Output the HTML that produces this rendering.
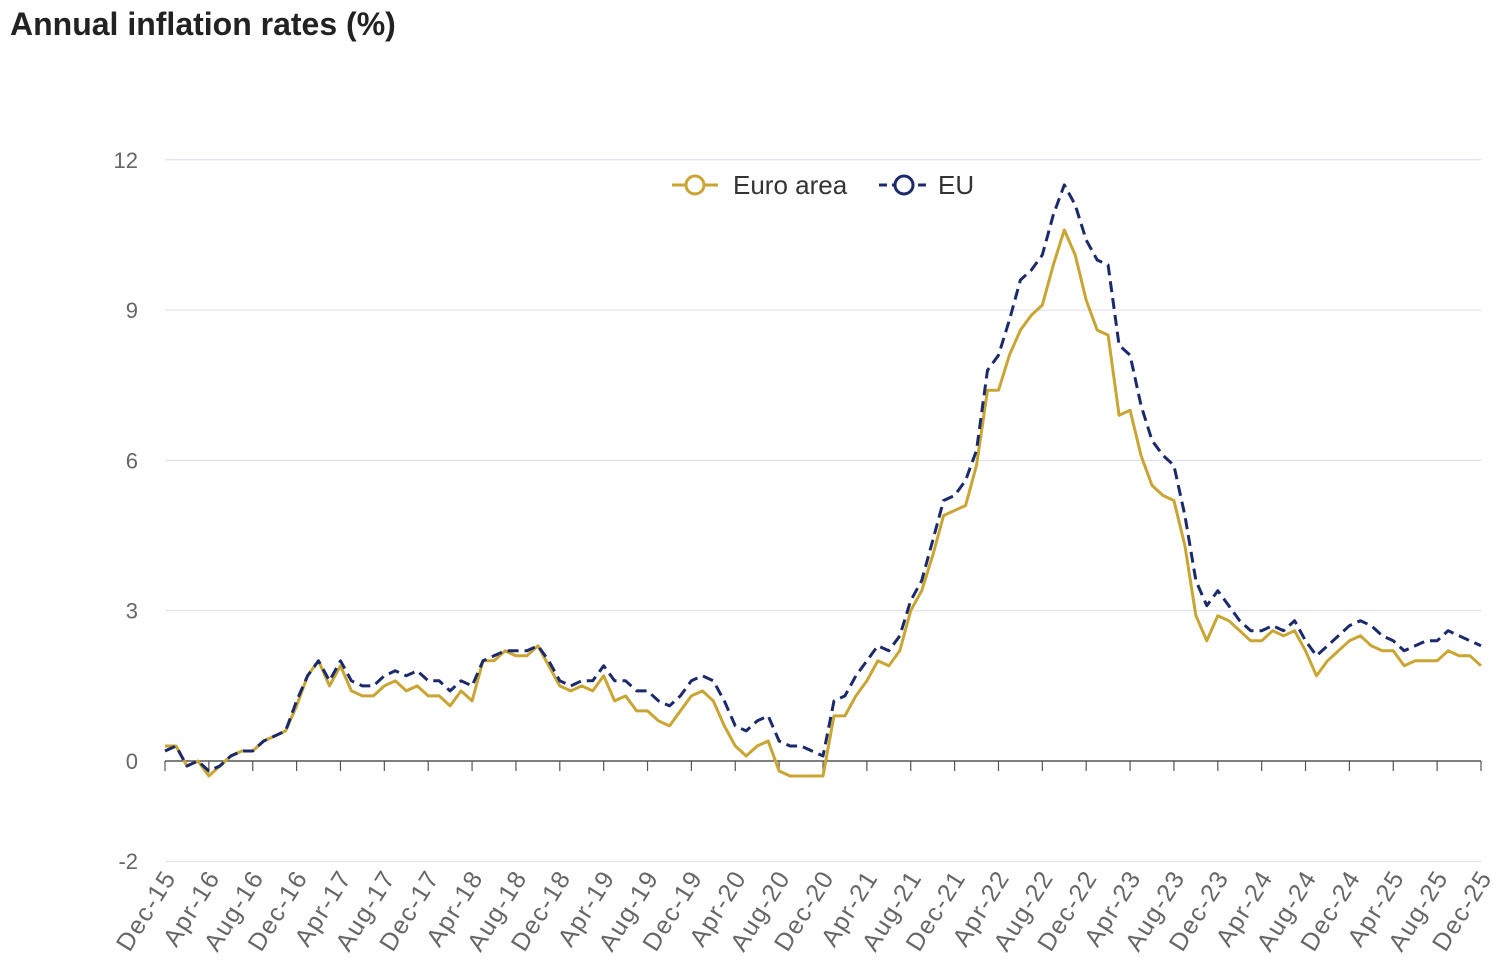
<!DOCTYPE html>
<html><head><meta charset="utf-8">
<style>
html,body{margin:0;padding:0;background:#fff;}
svg{display:block;font-family:"Liberation Sans",Arial,sans-serif;}
</style></head>
<body>
<svg id="c" width="1504" height="968" viewBox="0 0 1504 968" xmlns="http://www.w3.org/2000/svg">
<text x="10" y="35" font-size="32" font-weight="bold" fill="#222">Annual inflation rates (%)</text>
<g id="grid"></g>
<g id="series"></g>
<g id="legend">
<line x1="672" y1="185" x2="718" y2="185" stroke="#c9a533" stroke-width="3"/>
<circle cx="695" cy="185" r="9" fill="#fff" stroke="#c9a533" stroke-width="3"/>
<text x="733" y="194" font-size="26" fill="#333">Euro area</text>
<line x1="879" y1="185" x2="928" y2="185" stroke="#1b2a6b" stroke-width="3" stroke-dasharray="8,5"/>
<circle cx="904" cy="185" r="9" fill="#fff" stroke="#1b2a6b" stroke-width="3"/>
<text x="938" y="194" font-size="26" fill="#333">EU</text>
</g>
</svg>
<script>
var ea=[0.3,0.3,-0.1,0.0,-0.3,-0.1,0.1,0.2,0.2,0.4,0.5,0.6,1.1,
1.7,2.0,1.5,1.9,1.4,1.3,1.3,1.5,1.6,1.4,1.5,1.3,
1.3,1.1,1.4,1.2,2.0,2.0,2.2,2.1,2.1,2.3,1.9,1.5,
1.4,1.5,1.4,1.7,1.2,1.3,1.0,1.0,0.8,0.7,1.0,1.3,
1.4,1.2,0.7,0.3,0.1,0.3,0.4,-0.2,-0.3,-0.3,-0.3,-0.3,
0.9,0.9,1.3,1.6,2.0,1.9,2.2,3.0,3.4,4.1,4.9,5.0,
5.1,5.9,7.4,7.4,8.1,8.6,8.9,9.1,9.9,10.6,10.1,9.2,
8.6,8.5,6.9,7.0,6.1,5.5,5.3,5.2,4.3,2.9,2.4,2.9,
2.8,2.6,2.4,2.4,2.6,2.5,2.6,2.2,1.7,2.0,2.2,2.4,
2.5,2.3,2.2,2.2,1.9,2.0,2.0,2.0,2.2,2.1,2.1,1.9];
var eu=[0.2,0.3,-0.1,0.0,-0.2,-0.1,0.1,0.2,0.2,0.4,0.5,0.6,1.2,
1.7,2.0,1.6,2.0,1.6,1.5,1.5,1.7,1.8,1.7,1.8,1.6,
1.6,1.4,1.6,1.5,2.0,2.1,2.2,2.2,2.2,2.3,2.0,1.6,
1.5,1.6,1.6,1.9,1.6,1.6,1.4,1.4,1.2,1.1,1.3,1.6,
1.7,1.6,1.2,0.7,0.6,0.8,0.9,0.4,0.3,0.3,0.2,0.1,
1.2,1.3,1.7,2.0,2.3,2.2,2.5,3.2,3.6,4.4,5.2,5.3,
5.6,6.2,7.8,8.1,8.8,9.6,9.8,10.1,10.9,11.5,11.1,10.4,
10.0,9.9,8.3,8.1,7.1,6.4,6.1,5.9,4.9,3.6,3.1,3.4,
3.1,2.8,2.6,2.6,2.7,2.6,2.8,2.4,2.1,2.3,2.5,2.7,
2.8,2.7,2.5,2.4,2.2,2.3,2.4,2.4,2.6,2.5,2.4,2.3];
var x0=165,x1=1481,y0=761,py=50.1,n=120;
function X(i){return x0+(x1-x0)*i/n;}
function Y(v){return y0-v*py;}
var g='';
[12,9,6,3,-2].forEach(function(v){g+='<line x1="165" x2="1481" y1="'+Y(v)+'" y2="'+Y(v)+'" stroke="#dcdcec" stroke-width="1"/>';});
[12,9,6,3,0,-2].forEach(function(v){g+='<text x="138" y="'+(Y(v)+8)+'" font-size="22" fill="#666" text-anchor="end">'+v+'</text>';});
g+='<line x1="165" x2="1481" y1="761" y2="761" stroke="#555" stroke-width="1.5"/>';
var mons=['Dec','Apr','Aug'];
for(var k=0;k<=30;k++){var x=X(k*4);
g+='<line x1="'+x+'" x2="'+x+'" y1="761" y2="771" stroke="#555" stroke-width="1.2"/>';
var yr=15+Math.ceil(k/3);var m=mons[k%3];
g+='<text font-size="25" letter-spacing="1.5" fill="#666" text-anchor="end" transform="translate('+(x+12)+',877) rotate(-58)">'+m+'-'+yr+'</text>';}
document.getElementById('grid').innerHTML=g;
function path(d){return d.map(function(v,i){return (i?'L':'M')+X(i).toFixed(1)+','+Y(v).toFixed(1);}).join('');}
document.getElementById('series').innerHTML=
'<path d="'+path(ea)+'" fill="none" stroke="#c9a533" stroke-width="3" stroke-linejoin="round"/>'+
'<path d="'+path(eu)+'" fill="none" stroke="#1b2a6b" stroke-width="3" stroke-dasharray="11,6" stroke-linejoin="round"/>';
</script>
</body></html>
